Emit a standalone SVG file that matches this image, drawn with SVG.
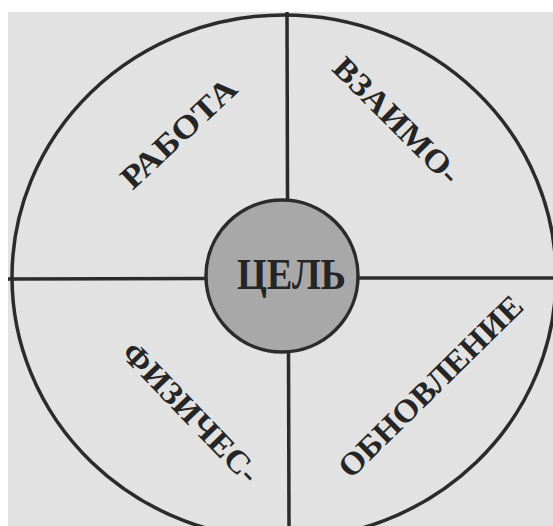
<svg xmlns="http://www.w3.org/2000/svg" width="553" height="526" viewBox="0 0 553 526">
  <style>
    .ln { stroke: #2b2b2b; stroke-width: 3.5; fill: none; }
    .lbl { font-family: "Liberation Serif", "Times New Roman", serif; font-weight: bold; font-size: 32px; fill: #252525; }
    .goal { font-family: "Liberation Serif", "Times New Roman", serif; font-weight: bold; font-size: 44px; fill: #252525; }
  </style>
  <rect x="0" y="0" width="553" height="526" fill="#ffffff"/>
  <rect x="8" y="12" width="545" height="514" fill="#e2e2e2"/>

  <g id="outer-circle">
    <ellipse class="ln" cx="284" cy="277" rx="272" ry="262"/>
  </g>

  <g id="connectors">
    <line class="ln" x1="287" y1="12" x2="287.5" y2="199"/>
    <line class="ln" x1="288.5" y1="352" x2="289" y2="526"/>
    <line class="ln" x1="8" y1="279" x2="206" y2="278.5"/>
    <line class="ln" x1="358" y1="278" x2="553" y2="278"/>
  </g>

  <g id="goal">
    <circle cx="282" cy="276" r="76" fill="#a8a8a8" stroke="#2b2b2b" stroke-width="3.5"/>
    <text class="goal" x="291.5" y="289" text-anchor="middle" textLength="109" lengthAdjust="spacingAndGlyphs">ЦЕЛЬ</text>
  </g>

  <g id="label-work">
    <text class="lbl" transform="translate(186,141) rotate(-43)" text-anchor="middle" textLength="146" lengthAdjust="spacingAndGlyphs">РАБОТА</text>
  </g>

  <g id="label-relations">
    <text class="lbl" transform="translate(389,128) rotate(45)" text-anchor="middle" textLength="165" lengthAdjust="spacingAndGlyphs">ВЗАИМО-</text>
  </g>

  <g id="label-physical">
    <text class="lbl" transform="translate(183,420) rotate(46)" text-anchor="middle" textLength="182" lengthAdjust="spacingAndGlyphs">ФИЗИЧЕС-</text>
  </g>

  <g id="label-renewal">
    <text class="lbl" transform="translate(438,394) rotate(-44.5)" text-anchor="middle" textLength="245" lengthAdjust="spacingAndGlyphs">ОБНОВЛЕНИЕ</text>
  </g>
</svg>
